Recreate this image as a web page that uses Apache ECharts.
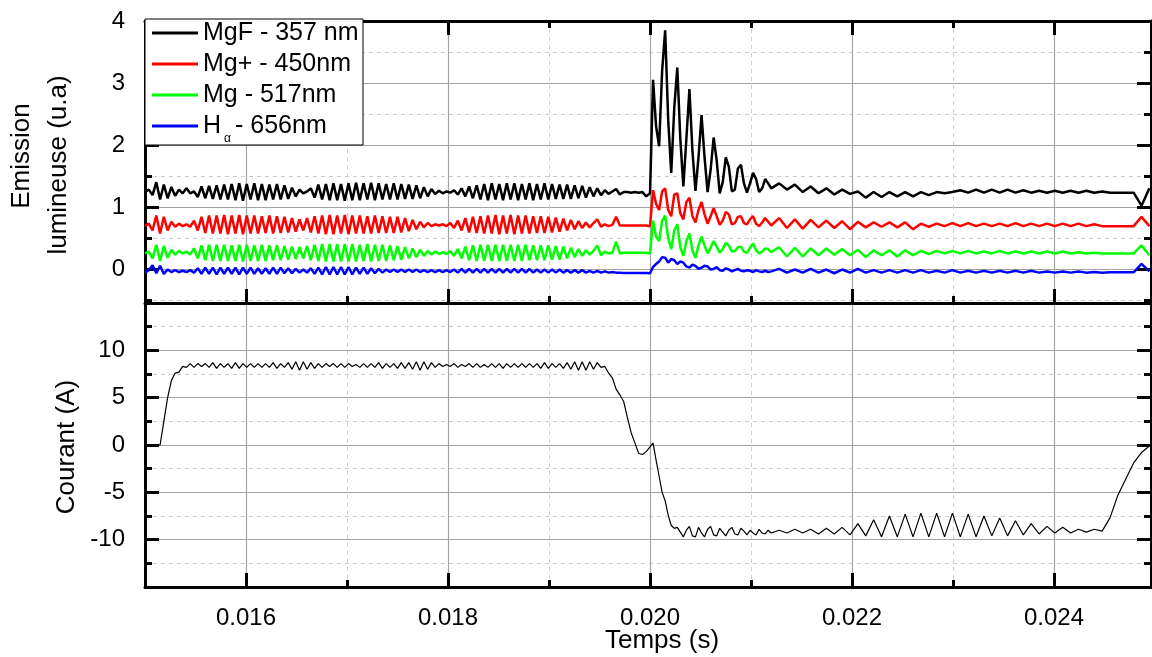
<!DOCTYPE html>
<html><head><meta charset="utf-8">
<script src="https://cdn.jsdelivr.net/npm/echarts@6/dist/echarts.min.js"></script>
<style>html,body{margin:0;padding:0;background:#fff}#c{width:1152px;height:657px}</style>
</head><body><div id="c"></div>
<script>
const FONT = "'Liberation Sans', Arial, Helvetica, sans-serif";

// ---- sampling grid (time in s): [start, end, intervals] ----
const timeSegments = [[0.015, 0.020, 134], [0.020, 0.0212, 40], [0.0212, 0.024944, 48]];

// ---- axis ranges / ticks ----
const X_MIN = 0.015, X_MAX = 0.02496;
const xMajorTicks = [0.016, 0.018, 0.020, 0.022, 0.024];
const xMinorTicks = [0.017, 0.019, 0.021, 0.023];
const emMin = -0.55, emMax = 4;
const emMajorTicks = [0, 1, 2, 3, 4];
const emMinorTicks = [-0.5, 0.5, 1.5, 2.5, 3.5];
const curMin = -15, curMax = 15;
const curMajorTicks = [-10, -5, 0, 5, 10];
const curMinorTicks = [-12.5, -7.5, -2.5, 2.5, 7.5, 12.5];

// ---- legend names ----
const seriesNames = ['MgF - 357 nm', 'Mg+ - 450nm', 'Mg - 517nm', 'H\u03b1 - 656nm'];
const seriesColors = ['#000000', '#ff0000', '#00ff00', '#0000ff'];

// ---- MgF 357 nm ----
const mgf1 = [1.24,1.28,1.19,1.40,1.12,1.36,1.14,1.32,1.18,1.28,
1.22,1.30,1.22,1.25,1.16,1.33,1.14,1.34,1.13,1.35,
1.12,1.36,1.12,1.37,1.11,1.38,1.10,1.37,1.12,1.38,
1.11,1.37,1.11,1.36,1.12,1.37,1.12,1.35,1.13,1.31,
1.17,1.28,1.22,1.25,1.30,1.15,1.36,1.12,1.37,1.11,
1.38,1.11,1.37,1.10,1.38,1.11,1.39,1.11,1.38,1.12,
1.39,1.11,1.38,1.12,1.37,1.12,1.38,1.12,1.37,1.13,
1.36,1.13,1.35,1.14,1.32,1.17,1.29,1.21,1.26,1.22,
1.25,1.23,1.27,1.20,1.30,1.17,1.33,1.14,1.35,1.12,
1.37,1.11,1.38,1.12,1.37,1.11,1.38,1.12,1.38,1.11,
1.37,1.12,1.38,1.11,1.37,1.12,1.38,1.12,1.37,1.13,
1.36,1.13,1.36,1.13,1.35,1.14,1.34,1.15,1.32,1.17,
1.30,1.19,1.27,1.21,1.25,1.29,1.20,1.24,1.24,1.23,
1.24,1.23,1.24,1.17,1.22];
const mgf2 = [3.05,2.30,1.98,3.20,3.85,2.40,1.55,2.60,3.25,2.10,
1.33,2.10,2.90,1.90,1.26,1.80,2.48,1.80,1.24,1.60,
2.12,1.75,1.22,1.40,1.80,1.65,1.25,1.28,1.62,1.68,
1.38,1.23,1.38,1.55,1.45,1.24,1.30,1.45,1.38,1.30];
const mgf3 = [1.38,1.28,1.36,1.24,1.33,1.22,1.30,1.20,1.28,1.21,
1.25,1.15,1.24,1.16,1.24,1.17,1.24,1.17,1.24,1.19,
1.24,1.22,1.24,1.27,1.23,1.28,1.23,1.28,1.23,1.28,
1.23,1.27,1.23,1.26,1.23,1.26,1.23,1.26,1.23,1.26,
1.23,1.25,1.23,1.23,1.23,1.23,1.02,1.30];

// ---- Mg+ 450 nm ----
const mgp1 = [0.69,0.73,0.62,0.86,0.57,0.84,0.62,0.76,0.68,0.73,
0.69,0.72,0.68,0.78,0.62,0.84,0.58,0.86,0.57,0.86,
0.57,0.87,0.56,0.86,0.57,0.87,0.56,0.86,0.57,0.86,
0.57,0.85,0.58,0.86,0.57,0.85,0.58,0.84,0.59,0.82,
0.60,0.80,0.62,0.82,0.59,0.85,0.57,0.86,0.56,0.87,
0.56,0.86,0.57,0.87,0.56,0.86,0.57,0.86,0.57,0.85,
0.57,0.86,0.58,0.85,0.58,0.84,0.58,0.84,0.59,0.82,
0.61,0.79,0.64,0.76,0.67,0.74,0.69,0.72,0.70,0.72,
0.69,0.74,0.66,0.78,0.62,0.82,0.59,0.84,0.58,0.85,
0.57,0.86,0.57,0.87,0.56,0.86,0.57,0.87,0.56,0.86,
0.57,0.86,0.57,0.85,0.58,0.85,0.58,0.84,0.59,0.83,
0.60,0.81,0.62,0.79,0.64,0.77,0.66,0.75,0.67,0.74,
0.80,0.68,0.72,0.69,0.71,0.84,0.70,0.70,0.70,0.70,
0.70,0.70,0.70,0.70,0.69];
const mgp2 = [1.27,1.05,0.95,1.25,1.30,0.95,0.85,1.20,1.22,0.90,
0.80,1.08,1.15,0.85,0.75,0.95,1.08,0.88,0.73,0.85,
0.98,0.85,0.71,0.78,0.92,0.88,0.72,0.74,0.84,0.85,
0.74,0.72,0.80,0.85,0.73,0.69,0.75,0.82,0.76,0.70];
const mgp3 = [0.82,0.66,0.80,0.65,0.79,0.67,0.78,0.66,0.77,0.64,
0.76,0.67,0.75,0.68,0.75,0.67,0.75,0.64,0.73,0.68,
0.73,0.69,0.74,0.69,0.74,0.69,0.73,0.69,0.73,0.69,
0.74,0.69,0.73,0.69,0.73,0.69,0.73,0.69,0.73,0.69,
0.72,0.69,0.69,0.69,0.69,0.69,0.84,0.69];

// ---- Mg 517 nm ----
const mg1 = [0.25,0.28,0.17,0.39,0.13,0.37,0.18,0.31,0.23,0.29,
0.25,0.28,0.23,0.33,0.17,0.38,0.14,0.39,0.13,0.39,
0.13,0.39,0.13,0.38,0.13,0.39,0.12,0.39,0.13,0.38,
0.13,0.39,0.13,0.38,0.14,0.38,0.14,0.37,0.15,0.36,
0.16,0.35,0.17,0.37,0.14,0.39,0.13,0.40,0.12,0.40,
0.12,0.40,0.12,0.40,0.12,0.40,0.12,0.39,0.13,0.40,
0.12,0.39,0.13,0.39,0.13,0.38,0.14,0.37,0.15,0.35,
0.17,0.33,0.19,0.31,0.21,0.29,0.23,0.28,0.24,0.27,
0.24,0.29,0.21,0.32,0.17,0.36,0.14,0.38,0.13,0.39,
0.13,0.39,0.13,0.39,0.13,0.39,0.13,0.39,0.13,0.39,
0.13,0.39,0.14,0.38,0.14,0.38,0.14,0.38,0.15,0.37,
0.15,0.36,0.17,0.34,0.19,0.32,0.21,0.30,0.23,0.29,
0.38,0.22,0.28,0.25,0.26,0.44,0.25,0.26,0.26,0.26,
0.26,0.26,0.26,0.26,0.25];
const mg2 = [0.78,0.52,0.45,0.78,0.86,0.50,0.32,0.62,0.72,0.35,
0.21,0.45,0.57,0.30,0.18,0.38,0.52,0.38,0.25,0.34,
0.45,0.36,0.26,0.32,0.42,0.38,0.28,0.29,0.35,0.36,
0.28,0.26,0.34,0.41,0.30,0.25,0.28,0.33,0.32,0.27];
const mg3 = [0.35,0.20,0.34,0.20,0.33,0.22,0.33,0.23,0.32,0.22,
0.31,0.19,0.30,0.22,0.30,0.20,0.30,0.22,0.29,0.24,
0.29,0.25,0.29,0.25,0.29,0.25,0.28,0.25,0.29,0.25,
0.28,0.25,0.28,0.25,0.28,0.25,0.28,0.25,0.27,0.25,
0.26,0.25,0.25,0.25,0.25,0.25,0.38,0.22];

// ---- H alpha 656 nm ----
const ha1 = [-0.06,-0.02,0.06,-0.07,0.05,-0.08,-0.01,-0.05,-0.02,-0.05,
-0.03,-0.05,-0.02,-0.06,0.01,-0.08,0.02,-0.08,0.02,-0.09,
0.02,-0.08,0.02,-0.08,0.02,-0.09,0.02,-0.08,0.02,-0.08,
0.01,-0.08,0.01,-0.08,0.02,-0.08,0.02,-0.07,0.01,-0.07,
0.00,-0.06,-0.01,-0.06,0.01,-0.08,0.02,-0.09,0.03,-0.09,
0.03,-0.09,0.03,-0.09,0.03,-0.09,0.02,-0.08,0.02,-0.08,
0.01,-0.07,0.00,-0.06,-0.01,-0.05,-0.01,-0.05,-0.01,-0.05,
-0.01,-0.05,-0.01,-0.05,-0.02,-0.05,-0.02,-0.05,-0.02,-0.05,
-0.02,-0.05,-0.01,-0.06,0.00,-0.06,0.00,-0.06,0.00,-0.06,
0.00,-0.06,0.00,-0.06,0.00,-0.06,0.00,-0.06,0.00,-0.06,
0.00,-0.06,0.00,-0.06,-0.01,-0.06,-0.01,-0.06,-0.01,-0.06,
-0.01,-0.06,-0.02,-0.06,-0.02,-0.06,-0.02,-0.06,-0.03,-0.06,
-0.03,-0.06,-0.04,-0.06,-0.05,-0.06,-0.06,-0.065,-0.065,-0.065,
-0.065,-0.065,-0.065,-0.065,-0.07];
const ha2 = [0.03,0.08,0.12,0.19,0.18,0.10,0.16,0.14,0.08,0.12,
0.10,0.04,0.02,0.07,0.05,0.00,0.02,0.05,0.04,-0.01,
0.00,0.03,-0.02,-0.03,0.01,-0.01,-0.04,-0.02,0.00,-0.03,
-0.04,-0.02,-0.03,-0.05,-0.02,-0.04,-0.05,-0.03,-0.05,-0.04];
const ha3 = [0.00,-0.06,-0.01,-0.06,0.00,-0.06,-0.01,-0.07,-0.01,-0.06,
0.00,-0.06,-0.02,-0.06,-0.02,-0.06,-0.02,-0.06,-0.02,-0.06,
-0.03,-0.06,-0.02,-0.06,-0.03,-0.06,-0.03,-0.06,-0.03,-0.06,
-0.03,-0.06,-0.03,-0.06,-0.04,-0.06,-0.04,-0.06,-0.04,-0.06,
-0.05,-0.06,-0.055,-0.055,-0.055,-0.055,0.08,-0.04];

// ---- Courant (A) ----
const cur1 = [0,0,0,0,0,2.5,5.0,6.8,7.6,7.7,
8.3,8.2,8.6,8.2,8.6,8.3,8.6,8.2,8.7,8.1,
8.6,8.2,8.6,8.1,8.7,8.1,8.6,8.2,8.6,8.2,
8.6,8.2,8.6,8.2,8.7,8.1,8.6,8.2,8.7,8.0,
8.8,7.9,8.8,8.0,8.7,8.1,8.6,8.2,8.6,8.3,
8.6,8.2,8.6,8.2,8.6,8.3,8.5,8.2,8.6,8.2,
8.6,8.2,8.7,8.1,8.6,8.2,8.6,8.1,8.7,8.1,
8.7,8.0,8.8,7.9,8.8,8.0,8.7,8.2,8.6,8.3,
8.5,8.3,8.6,8.2,8.5,8.3,8.6,8.2,8.6,8.2,
8.5,8.2,8.6,8.2,8.6,8.1,8.6,8.2,8.6,8.2,
8.6,8.2,8.6,8.2,8.6,8.1,8.7,8.1,8.6,8.2,
8.6,8.1,8.7,8.0,8.8,7.9,8.8,7.9,8.8,8.0,
8.7,8.2,8.3,7.6,7.1,5.9,5.3,4.6,2.9,1.3,
0.2,-0.9,-1.0,-0.7,-0.2];
const cur2 = [0.2,-1.6,-3.3,-5.0,-5.9,-7.4,-8.5,-8.8,-8.7,-9.2,
-9.7,-9.0,-8.6,-9.6,-9.7,-8.7,-9.3,-9.7,-8.9,-8.6,
-9.5,-9.6,-8.8,-9.2,-9.6,-9.0,-8.7,-9.4,-9.5,-8.8,
-9.1,-9.5,-9.0,-9.3,-9.5,-8.9,-9.3,-9.4,-9.0,-9.3];
const cur3 = [-9.0,-9.3,-8.9,-9.3,-8.9,-9.4,-8.8,-9.4,-8.7,-9.5,
-8.3,-9.6,-7.9,-9.7,-7.5,-9.7,-7.3,-9.7,-7.2,-9.7,
-7.2,-9.7,-7.2,-9.7,-7.3,-9.7,-7.5,-9.6,-7.7,-9.6,
-8.0,-9.5,-8.3,-9.4,-8.6,-9.3,-8.7,-9.3,-8.9,-9.2,
-8.9,-9.1,-7.7,-5.3,-3.6,-1.9,-0.8,-0.1];

// ---------------------------------------------------------------
const time = [];
timeSegments.forEach(([a, b, n], s) => {
  for (let i = (s === 0 ? 0 : 1); i <= n; i++) time.push(a + (b - a) * i / n);
});
function pairs(parts, label) {
  const v = [].concat(...parts);
  if (v.length !== time.length) throw new Error(label + ' length ' + v.length + ' != ' + time.length);
  return time.map((t, i) => [t, v[i]]);
}
const emissionData = [
  pairs([mgf1, mgf2, mgf3], 'mgf'),
  pairs([mgp1, mgp2, mgp3], 'mgp'),
  pairs([mg1, mg2, mg3], 'mg'),
  pairs([ha1, ha2, ha3], 'ha')
];
const currentData = pairs([cur1, cur2, cur3], 'cur');

const MAJOR_GRID = { color: '#a4a4a4', width: 1.2, type: 'solid' };
const MINOR_GRID = { color: '#cdcdcd', width: 1, type: [4, 4] };

function mkAxis(grid, pos, min, max, ticks, len, showLine, fmt, split) {
  return {
    type: 'value', gridIndex: grid, position: pos, min: min, max: max,
    axisLine: { show: showLine, onZero: false, lineStyle: { color: '#000', width: 3 } },
    axisTick: { show: true, inside: true, length: len, customValues: ticks, lineStyle: { color: '#000', width: 3 } },
    axisLabel: fmt ? { show: true, customValues: ticks, formatter: fmt, fontFamily: FONT, fontSize: 24, color: '#000',
      margin: (pos === 'bottom' ? 19 : 20) } : { show: false },
    splitLine: split ? { show: true, lineStyle: split } : { show: false }
  };
}
const xFmt = v => v.toFixed(3);
const yFmt = v => String(v);

const xAxes = [
  mkAxis(0, 'bottom', X_MIN, X_MAX, xMajorTicks, 14, true, null, MAJOR_GRID),
  mkAxis(0, 'bottom', X_MIN, X_MAX, xMinorTicks, 7, false, null, MINOR_GRID),
  mkAxis(0, 'top', X_MIN, X_MAX, xMajorTicks, 14, true, null, null),
  mkAxis(0, 'top', X_MIN, X_MAX, xMinorTicks, 7, false, null, null),
  mkAxis(1, 'bottom', X_MIN, X_MAX, xMajorTicks, 14, true, xFmt, MAJOR_GRID),
  mkAxis(1, 'bottom', X_MIN, X_MAX, xMinorTicks, 7, false, null, MINOR_GRID)
];
const yAxes = [
  mkAxis(0, 'left', emMin, emMax, emMajorTicks, 14, true, yFmt, MAJOR_GRID),
  mkAxis(0, 'left', emMin, emMax, emMinorTicks, 7, false, null, MINOR_GRID),
  mkAxis(0, 'right', emMin, emMax, emMajorTicks, 14, true, null, null),
  mkAxis(0, 'right', emMin, emMax, emMinorTicks, 7, false, null, null),
  mkAxis(1, 'left', curMin, curMax, curMajorTicks, 14, true, yFmt, MAJOR_GRID),
  mkAxis(1, 'left', curMin, curMax, curMinorTicks, 7, false, null, MINOR_GRID),
  mkAxis(1, 'right', curMin, curMax, curMajorTicks, 14, true, null, null),
  mkAxis(1, 'right', curMin, curMax, curMinorTicks, 7, false, null, null)
];

const series = emissionData.map((d, k) => ({
  name: seriesNames[k], type: 'line', xAxisIndex: 0, yAxisIndex: 0,
  data: d, symbol: 'none', showSymbol: false, color: seriesColors[k],
  lineStyle: { color: seriesColors[k], width: 2.5 }, z: 5 - k, animation: false
}));
series.push({
  name: 'Courant', type: 'line', xAxisIndex: 4, yAxisIndex: 4, data: currentData,
  symbol: 'none', showSymbol: false, color: '#000', lineStyle: { color: '#000', width: 1.2 }, animation: false
});

const chart = echarts.init(document.getElementById('c'), null, { renderer: 'canvas' });
chart.setOption({
  backgroundColor: '#fff',
  animation: false,
  grid: [
    { left: 145, right: 1, top: 21, height: 282 },
    { left: 145, right: 1, top: 303, height: 284 }
  ],
  xAxis: xAxes,
  yAxis: yAxes,
  legend: {
    data: seriesNames.map((n, k) => ({ name: n, icon: 'rect', itemStyle: { color: seriesColors[k] } })),
    orient: 'vertical', left: 152, top: 14, padding: 0,
    itemWidth: 46, itemHeight: 3, itemGap: -7, selectedMode: false, z: 60,
    textStyle: {
      fontFamily: FONT, fontSize: 25, lineHeight: 38, color: '#000',
      rich: {
        n: { fontFamily: FONT, fontSize: 25, lineHeight: 38, color: '#000' },
        sub: { fontFamily: FONT, fontSize: 12, lineHeight: 12, color: '#000', padding: [26, 4, 0, 3] }
      }
    },
    formatter: name => name === seriesNames[3] ? '{n|H}{sub|\u03b1}{n|- 656nm}' : '{n|' + name + '}'
  },
  graphic: [
    { type: 'rect', z: 50, shape: { x: 145, y: 19, width: 218, height: 126 },
      style: { fill: '#fff', stroke: '#000', lineWidth: 1 } },
    { type: 'text', z: 50, x: 22, y: 156, rotation: Math.PI / 2,
      style: { text: 'Emission', fontFamily: FONT, fontSize: 26, fill: '#000', align: 'center', verticalAlign: 'middle' } },
    { type: 'text', z: 50, x: 59, y: 165, rotation: Math.PI / 2,
      style: { text: 'lumineuse (u.a)', fontFamily: FONT, fontSize: 26, fill: '#000', align: 'center', verticalAlign: 'middle' } },
    { type: 'text', z: 50, x: 67, y: 447, rotation: Math.PI / 2,
      style: { text: 'Courant (A)', fontFamily: FONT, fontSize: 26, fill: '#000', align: 'center', verticalAlign: 'middle' } },
    { type: 'text', z: 50, x: 662, y: 641,
      style: { text: 'Temps (s)', fontFamily: FONT, fontSize: 26, fill: '#000', align: 'center', verticalAlign: 'middle' } }
  ],
  series: series
});
</script></body></html>
